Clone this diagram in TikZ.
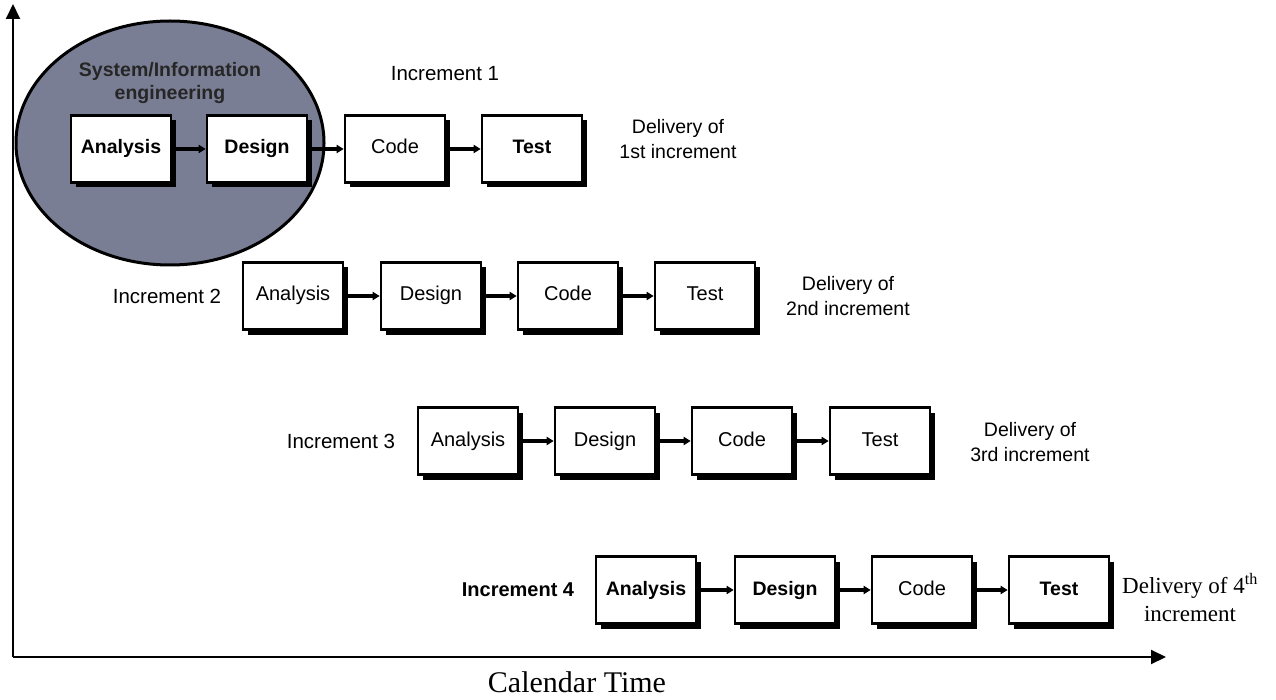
\documentclass[tikz,border=0pt]{standalone}
\usepackage{fontspec}
\setmainfont{Liberation Sans}
\newfontfamily\timesfont{Liberation Serif}
\usetikzlibrary{shadows,arrows.meta}
\definecolor{ellfill}{RGB}{122,126,148}
\tikzset{
  stagebox/.style={draw, line width=2.6pt, fill=white, minimum width=100pt, minimum height=67pt,
     inner sep=0pt, text height=14pt, text depth=4pt, font=\fontsize{20}{22}\selectfont,
     drop shadow={shadow xshift=5pt, shadow yshift=-5pt, fill=black, opacity=1}},
  boldbox/.style={stagebox, font=\fontsize{19.5}{22}\selectfont\bfseries},
  conn/.style={line width=3.2pt, -{Triangle[length=7pt,width=8pt]}},
  axis/.style={line width=2pt, -{Triangle[length=15pt,width=14pt]}},
  lbl/.style={font=\fontsize{20.5}{22}\selectfont, align=center},
  deliv/.style={font=\fontsize{19.5}{25}\selectfont, align=center},
}
\begin{document}
\begin{tikzpicture}[x=1pt,y=-1pt]
\useasboundingbox (0,0) rectangle (1276,700);
% axes
\coordinate (origin) at (13,657);
\coordinate (ytop) at (13,4);
\coordinate (xend) at (1166,657);
\draw[axis] (origin) -- (ytop);
\draw[axis] (origin) -- (xend);
\node[font=\timesfont\fontsize{30}{32}\selectfont, anchor=base, inner sep=0pt] (caltime) at (577,692) {Calendar Time};
% ellipse
\fill[ellfill, draw=black, line width=3pt] (170,143) ellipse [x radius=154, y radius=122];
\node[font=\fontsize{19.5}{23}\selectfont\bfseries, align=center, text=black!85] (sie) at (170,83) {System/Information\\engineering};
% Row 1
\node[boldbox] (a1) at (121,149) {Analysis};
\node[boldbox] (d1) at (257,149) {Design};
\node[stagebox] (c1) at (395,149) {Code};
\node[boldbox] (t1) at (532,149) {Test};
\draw[conn] (a1) -- (d1);
\draw[conn] (d1) -- (c1);
\draw[conn] (c1) -- (t1);
\node[lbl] (inc1) at (445,74) {Increment 1};
\node[deliv] (del1) at (678,139) {Delivery of\\1st increment};
% Row 2
\node[stagebox] (a2) at (293,296) {Analysis};
\node[stagebox] (d2) at (431,296) {Design};
\node[stagebox] (c2) at (568,296) {Code};
\node[stagebox] (t2) at (705,296) {Test};
\draw[conn] (a2) -- (d2);
\draw[conn] (d2) -- (c2);
\draw[conn] (c2) -- (t2);
\node[lbl] (inc2) at (167,296) {Increment 2};
\node[deliv] (del2) at (848,296) {Delivery of\\2nd increment};
% Row 3
\node[stagebox] (a3) at (468,441) {Analysis};
\node[stagebox] (d3) at (605,441) {Design};
\node[stagebox] (c3) at (742,441) {Code};
\node[stagebox] (t3) at (880,441) {Test};
\draw[conn] (a3) -- (d3);
\draw[conn] (d3) -- (c3);
\draw[conn] (c3) -- (t3);
\node[lbl] (inc3) at (341,441) {Increment 3};
\node[deliv] (del3) at (1030,442) {Delivery of\\3rd increment};
% Row 4
\node[boldbox] (a4) at (646,590) {Analysis};
\node[boldbox] (d4) at (785,590) {Design};
\node[stagebox] (c4) at (922,590) {Code};
\node[boldbox] (t4) at (1059,590) {Test};
\draw[conn] (a4) -- (d4);
\draw[conn] (d4) -- (c4);
\draw[conn] (c4) -- (t4);
\node[lbl, font=\fontsize{20}{22}\selectfont\bfseries] (inc4) at (518,590) {Increment 4};
\node[font=\timesfont\fontsize{23}{28}\selectfont, align=center] (del4) at (1190,598) {Delivery of 4\textsuperscript{th}\\increment};
\end{tikzpicture}
\end{document}
